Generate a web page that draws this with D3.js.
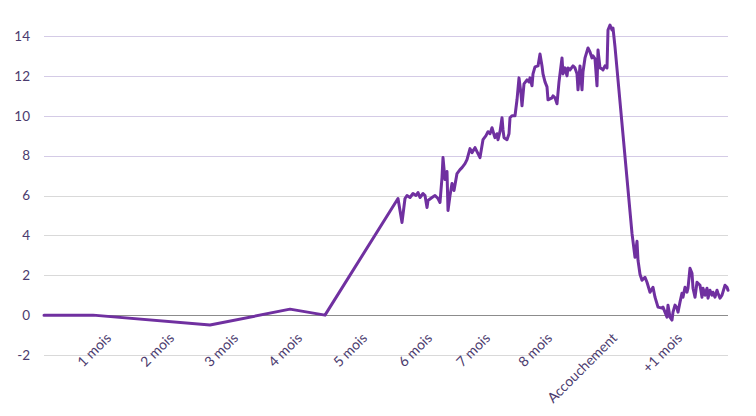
<!DOCTYPE html>
<html>
<head>
<meta charset="utf-8">
<script src="https://cdn.jsdelivr.net/npm/d3@7"></script>
<style>
  html, body { margin: 0; padding: 0; background: #ffffff; }
  svg { display: block; }
  text { font-family: "Lato", "Open Sans", sans-serif; }
</style>
</head>
<body>
<svg id="chart" width="756" height="416"></svg>
<script>
// ---- Data (time in chart units, value) ----
const timeUnits = [
  0, 24.5, 83, 123, 140.5, 177,
  179, 180.5, 181.5, 183, 184.5, 186, 187, 188, 189.5, 190.5, 191.5, 192, 194, 195.5, 197, 198,
  199, 199.5, 200.5, 201.5, 202, 203, 204, 205, 206.5, 208, 209, 210.5, 211.5, 213, 214, 215.5,
  217, 218, 219.5, 221, 222, 223, 224, 225, 225.5, 226.5, 227, 228, 229, 229.5, 230, 231.5,
  232.5, 233, 234, 235.5, 236.5, 237.5, 238.5, 239, 240, 241.5, 242.5, 243, 244, 244.5, 245.5,
  247, 248, 249, 249.5, 250.5, 251.5, 252, 253, 254, 254.5, 255.5, 256.5, 257.5, 259, 259.5,
  260.5, 261.5, 262, 263, 264.5, 265.5, 266.5, 267, 268, 269, 269.5, 270.5, 272, 273, 274,
  274.5, 275.5, 276.5, 277, 278, 279, 279.5, 280.5, 281.5, 282, 283, 284, 284.5, 285.5,
  294, 295.5, 296.5, 297, 298, 299, 300.5, 301.5, 303, 304.5, 305.5, 307, 309, 309.5, 310.5,
  311.5, 312, 313, 314, 314.5, 315.5, 316.5, 317, 318, 319, 319.5, 320.5, 321.5, 322, 323,
  324, 324.5, 325.5, 326.5, 327, 328, 329, 329.5, 330.5, 331.5, 332, 333, 334, 334.5, 335.5,
  336.5, 337, 338, 339, 340.5, 341.5, 342
];
const seriesValues = [
  0, 0, -0.5, 0.3, 0, 5.85,
  4.65, 5.85, 6.0, 5.9, 6.1, 6.0, 6.15, 5.9, 6.1, 6.0, 5.4, 5.75, 5.9, 6.0, 5.85, 5.65,
  6.9, 7.9, 6.8, 7.2, 5.25, 6.0, 6.6, 6.25, 7.1, 7.3, 7.4, 7.6, 7.8, 8.35, 8.15, 8.4,
  8.1, 7.9, 8.8, 9.0, 9.2, 9.1, 9.4, 9.05, 8.9, 9.1, 8.8, 9.2, 9.9, 9.3, 8.9, 8.8,
  9.1, 9.9, 10.0, 10.0, 10.8, 11.9, 11.1, 10.5, 11.6, 11.8, 11.7, 11.9, 11.5, 12.1, 12.45,
  12.5, 13.1, 12.5, 12.1, 11.7, 11.45, 10.8, 10.85, 10.9, 11.0, 10.9, 10.6, 11.7, 12.9, 12.1,
  12.4, 12.0, 12.4, 12.3, 12.5, 12.4, 12.1, 11.3, 12.5, 11.3, 12.2, 12.9, 13.4, 13.2, 12.9,
  13.0, 12.85, 11.5, 13.3, 12.4, 12.35, 12.3, 12.5, 12.4, 14.3, 14.55, 14.3, 14.4, 13.45,
  4.1, 2.9, 3.7, 2.75, 2.05, 1.75, 1.9, 1.65, 1.15, 1.4, 0.9, 0.4, 0.35, 0.4, 0.15,
  -0.1, 0.5, -0.1, -0.25, 0.15, 0.5, 0.35, 0.15, 0.65, 1.1, 0.9, 1.4, 1.15, 1.35, 2.35,
  2.1, 1.35, 0.9, 1.65, 1.6, 1.5, 0.9, 1.35, 1.0, 1.35, 0.85, 1.25, 1.0, 1.15, 0.9,
  1.25, 1.1, 0.85, 1.0, 1.5, 1.4, 1.25
];
const monthLabels = ["1 mois", "2 mois", "3 mois", "4 mois", "5 mois", "6 mois", "7 mois", "8 mois", "Accouchement", "+1 mois"];
const monthPositions = [34, 65.5, 97.5, 129.5, 162, 194.5, 223.5, 254.5, 287, 319.5];
const yTickValues = [-2, 0, 2, 4, 6, 8, 10, 12, 14];

// ---- Layout ----
const svg = d3.select("#chart");
const plotLeft = 44, plotRight = 728;
const x = d3.scaleLinear().domain([0, 342]).range([plotLeft, plotRight]);
const y = d3.scaleLinear().domain([-2, 14]).range([355, 36]);

const textColor = "#4b3b6e";

// gridlines
svg.append("g").selectAll("line")
  .data(yTickValues)
  .join("line")
  .attr("x1", plotLeft).attr("x2", plotRight)
  .attr("y1", d => Math.round(y(d)) + 0.5).attr("y2", d => Math.round(y(d)) + 0.5)
  .attr("stroke", d => d === 0 ? "#8c8c8c" : (d >= 8 ? "#d4cbe6" : "#d9d9d9"))
  .attr("stroke-width", 1);

// y axis labels
const yAxis = d3.axisLeft(y).tickValues(yTickValues).tickSize(0).tickPadding(0)
  .tickFormat(d => d < 0 ? "-" + Math.abs(d) : d);
const gy = svg.append("g").attr("transform", "translate(30,0)").call(yAxis);
gy.select(".domain").remove();
gy.selectAll("text")
  .attr("fill", textColor)
  .style("font-size", "13.5px")
  .style("font-family", "Lato, 'Open Sans', sans-serif");

// x axis labels
const gx = svg.append("g");
gx.selectAll("text")
  .data(monthLabels)
  .join("text")
  .attr("transform", (d, i) => `translate(${x(monthPositions[i])},339) rotate(-45)`)
  .attr("text-anchor", "end")
  .attr("fill", textColor)
  .style("font-size", "14px")
  .text(d => d);

// line
const line = d3.line()
  .x((d, i) => x(timeUnits[i]))
  .y(d => y(d));
svg.append("path")
  .datum(seriesValues)
  .attr("d", line)
  .attr("fill", "none")
  .attr("stroke", "#7030a0")
  .attr("stroke-width", 3)
  .attr("stroke-linejoin", "round")
  .attr("stroke-linecap", "round");
</script>
</body>
</html>
